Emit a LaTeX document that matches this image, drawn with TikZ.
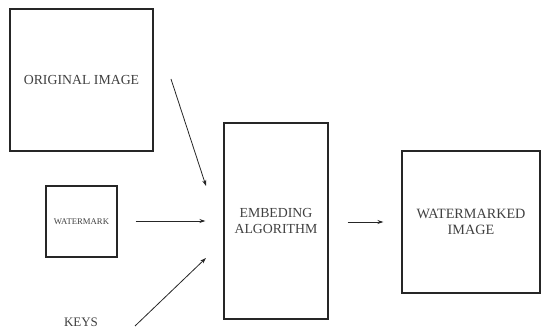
\documentclass[tikz,border=0pt]{standalone}
\usepackage{fontspec}
\setmainfont{Liberation Serif}
\usetikzlibrary{arrows.meta}
\begin{document}
\begin{tikzpicture}[x=1pt,y=1pt,
  blockbox/.style={draw=black!85,line width=1.1pt,inner sep=0pt,align=center,text=black!75},
  flow/.style={draw=black!85,line width=0.8pt,-{Stealth[length=6pt,width=4pt]}}]
\useasboundingbox (0,0) rectangle (542,330);
\node[blockbox,minimum width=143pt,minimum height=142pt,font=\fontsize{13.8}{15}\selectfont] (orig) at (81.5,250) {ORIGINAL IMAGE};
\node[blockbox,minimum width=71pt,minimum height=71pt,font=\fontsize{8.7}{10}\selectfont] (wm) at (81.5,108.5) {WATERMARK};
\node[blockbox,minimum width=104pt,minimum height=196pt,font=\fontsize{13.8}{16}\selectfont] (emb) at (276,109) {EMBEDING\\ALGORITHM};
\node[blockbox,minimum width=138pt,minimum height=142pt,font=\fontsize{14.2}{16}\selectfont] (out) at (471,108) {WATERMARKED\\IMAGE};
\node[text=black!75,font=\fontsize{13}{14}\selectfont,anchor=base,inner sep=0pt] (keys) at (81,3) {KEYS};
\coordinate (a1s) at (171,251);
\coordinate (a1e) at (206,144);
\coordinate (a3s) at (135,4);
\coordinate (a3e) at (206,72);
\draw[flow] (a1s) -- (a1e);
\draw[flow,shorten <=18pt,shorten >=18pt] (wm.east |- 0,109) -- (emb.west |- 0,109);
\draw[flow] (a3s) -- (a3e);
\draw[flow,shorten <=19pt,shorten >=18pt] (emb.east |- 0,108) -- (out.west |- 0,108);
\end{tikzpicture}
\end{document}
